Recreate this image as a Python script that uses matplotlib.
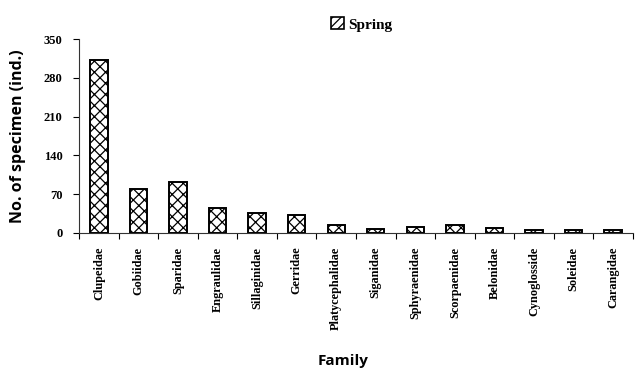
import numpy as np
from matplotlib import pyplot as plt
from matplotlib.patches import Patch

families = ["Clupeidae", "Gobiidae", "Sparidae", "Engraulidae", "Sillaginidae",
            "Gerridae", "Platycephalidae", "Siganidae", "Sphyraenidae",
            "Scorpaenidae", "Belonidae", "Cynoglosside", "Soleidae", "Carangidae"]
spring = [313, 80, 91, 44, 36, 33, 15, 7, 10, 14, 9, 5, 5, 5]
y_ticks = [0, 70, 140, 210, 280, 350]

plt.rcParams['hatch.linewidth'] = 0.9

fig = plt.figure(figsize=(6.38, 3.69), dpi=100)
ax = fig.add_axes([0.124, 0.369, 0.868, 0.525])

x = np.arange(len(families))
ax.bar(x, spring, width=0.44, color="white", edgecolor="black",
       linewidth=1.4, hatch="xxx")

ax.set_xlim(-0.5, len(families) - 0.5)
ax.set_ylim(0, 350)
ax.set_yticks(y_ticks)
ax.set_yticklabels([str(v) for v in y_ticks], family="Liberation Serif",
                   fontweight="bold", fontsize=9)

# labels at bar centres, tick marks at category boundaries
ax.set_xticks(x)
ax.set_xticklabels(families, rotation=90, family="Liberation Serif",
                   fontweight="bold", fontsize=8.8, va="top")
ax.set_xticks(np.arange(len(families) + 1) - 0.5, minor=True)
ax.tick_params(axis="x", which="major", length=0, pad=10)
ax.tick_params(axis="x", which="minor", length=4, width=0.8, direction="out")
ax.tick_params(axis="y", length=4, width=0.8, direction="out", pad=8)

for side in ("top", "right"):
    ax.spines[side].set_visible(False)
for side in ("left", "bottom"):
    ax.spines[side].set_linewidth(0.8)
    ax.spines[side].set_color("#333333")

ax.set_ylabel("No. of specimen (ind.)", family="Open Sans", fontweight="bold",
              fontsize=11.5, labelpad=13)
fig.text(0.538, 0.012, "Family", family="Open Sans", fontweight="bold",
         fontsize=11, ha="center")

handle = Patch(facecolor="white", edgecolor="black", hatch="////", linewidth=1.2)
fig.legend([handle], ["Spring"], loc="upper left", bbox_to_anchor=(0.498, 0.99),
           frameon=False, handlelength=0.8, handleheight=0.8, handletextpad=0.3,
           prop={"family": "Liberation Serif", "weight": "bold", "size": 11})

fig.savefig("out.png", dpi=100)
